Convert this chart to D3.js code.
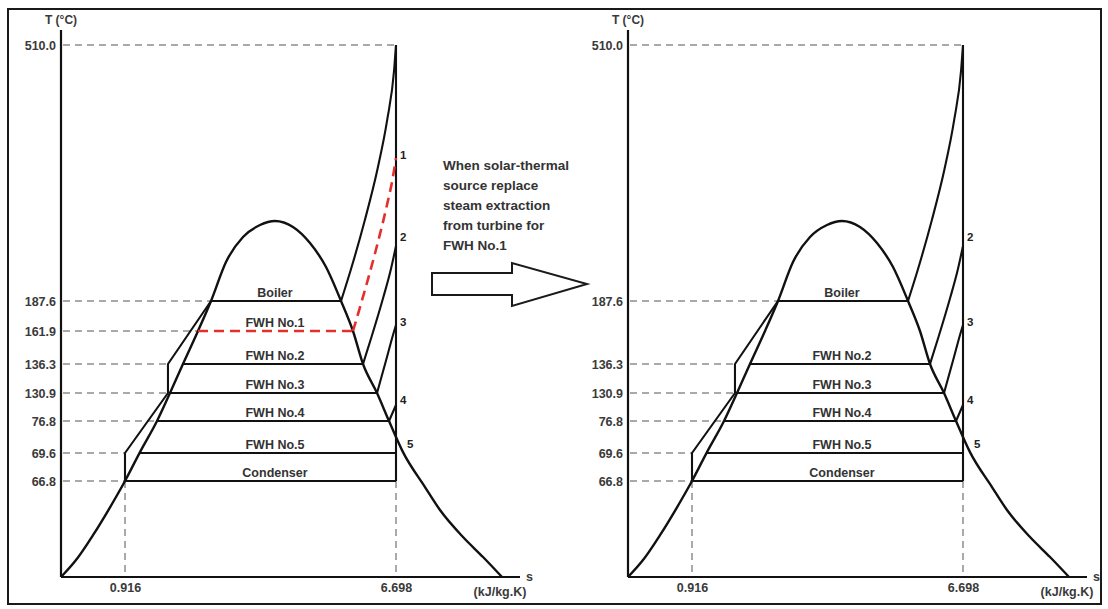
<!DOCTYPE html>
<html>
<head>
<meta charset="utf-8">
<script src="https://cdn.jsdelivr.net/npm/d3@7"></script>
<style>
  body { margin: 0; background: #fff; }
  svg { display: block; font-family: "Liberation Sans", Arial, sans-serif; }
</style>
</head>
<body>
<script>
// temperature levels on the T axis (°C)
const tLevels = [510.0, 187.6, 161.9, 136.3, 130.9, 76.8, 69.6, 66.8];
// entropy ticks (kJ/kg.K)
const sTicks = [0.916, 6.698];

// heat exchangers: name, temperature, liquid-side s, vapour-side s
const heaterNames = ["Boiler", "FWH No.1", "FWH No.2", "FWH No.3", "FWH No.4", "FWH No.5", "Condenser"];
const heaterT = [187.6, 161.9, 136.3, 130.9, 76.8, 69.6, 66.8];
const heaterS1 = [2.751, 2.474, 2.153, 1.876, 1.599, 1.236, 0.916];
const heaterS2 = [5.525, 5.780, 5.994, 6.293, 6.549, 6.698, 6.698];

// saturation dome (schematic)
const domeS = [0, 0.229, 0.458, 0.687, 0.916, 1.236, 1.599, 1.876, 2.153, 2.474, 2.751, 3.071, 3.434, 3.796, 4.116,
               4.500, 4.863, 5.205, 5.525, 5.780, 5.994, 6.293, 6.549, 6.860, 7.370, 7.718, 8.251, 8.715, 9.155];
const domeT = [0, 12.7, 29.1, 47.3, 66.8, 69.8, 76.8, 130.9, 136.3, 161.9, 187.6, 236.7, 268.2, 283.3, 288.4,
               280.8, 260.6, 230.4, 187.6, 161.9, 136.3, 130.9, 76.8, 69.8, 62.6, 46.6, 27.8, 13.9, 0];

// pumps + compressed liquid
const pumpS = [0.916, 0.916, 1.833, 1.833, 2.751];
const pumpT = [66.8, 69.6, 130.9, 136.3, 187.6];

// superheated lines up to s = 6.698
const mainS = [5.525, 5.732, 6.034, 6.299, 6.510, 6.658, 6.698];
const mainT = [187.6, 226.6, 289.6, 352.6, 415.6, 478.5, 510.0];
const ext1S = [5.780, 5.975, 6.252, 6.515, 6.621, 6.698];
const ext1T = [161.9, 188.9, 248.1, 311.0, 340.0, 367.7];
const ext2S = [5.994, 6.175, 6.429, 6.585, 6.698];
const ext2T = [136.3, 157.2, 192.6, 226.6, 256.9];
const ext3S = [6.293, 6.506, 6.634, 6.698];
const ext3T = [130.9, 141.7, 158.8, 167.0];
const ext4S = [6.549, 6.698];
const ext4T = [76.8, 107.7];

// extraction point labels
const pointNames = ["1", "2", "3", "4", "5"];
const pointS = [6.86, 6.86, 6.86, 6.86, 7.02];
const pointT = [371.5, 268.2, 169.6, 117.4, 71.6];

const noteLines = ["When solar-thermal", "source replace", "steam extraction", "from turbine for", "FWH No.1"];

const W = 1108, H = 609;
const svg = d3.select("body").append("svg")
    .attr("width", W)
    .attr("height", H);

// outer frame
svg.append("rect")
    .attr("x", 8).attr("y", 9)
    .attr("width", 1093).attr("height", 595)
    .attr("fill", "none")
    .attr("stroke", "#1a1a1a")
    .attr("stroke-width", 2);

// schematic (piecewise) temperature scale, shared by both panels
let y = d3.scaleLinear()
    .domain([0, ...tLevels.slice().reverse()])
    .range([577, 481, 453, 421, 393, 364, 331, 301, 45]);

function drawPanel(x0, withFwh1) {
    let sMax = d3.max(domeS);
    let x = d3.scaleLinear()
        .domain([0, ...sTicks, sMax])
        .range([0, 64, 335, 441].map(v => v + x0));

    let g = svg.append("g");
    let curve = (S, T) => d3.line()
        .x((d, i) => x(S[i]))
        .y((d, i) => y(T[i]))
        .curve(d3.curveMonotoneX)(S);
    let straight = (S, T) => d3.line()
        .x((d, i) => x(S[i]))
        .y((d, i) => y(T[i]))(S);

    let levels = withFwh1 ? tLevels : tLevels.filter(t => t !== 161.9);
    let tTop = d3.max(tLevels);
    let sRight = sTicks[1];
    let tCond = d3.min(heaterT);

    // where each dashed guide meets the first solid line
    function dashEnd(t) {
        if (t === tTop) return sRight;
        let c = [];
        pumpT.forEach((v, i) => { if (v === t) c.push(pumpS[i]); });
        heaterT.forEach((v, i) => { if (v === t) c.push(heaterS1[i]); });
        return d3.min(c);
    }

    // dashed guides
    let guides = g.append("g")
        .attr("stroke", "#555")
        .attr("stroke-width", 1)
        .attr("stroke-dasharray", "7,5");
    guides.selectAll("line.h")
        .data(levels)
        .join("line")
        .attr("class", "h")
        .attr("x1", x(0) + 2).attr("x2", d => x(dashEnd(d)))
        .attr("y1", d => y(d)).attr("y2", d => y(d));
    guides.selectAll("line.v")
        .data(sTicks)
        .join("line")
        .attr("class", "v")
        .attr("x1", d => x(d)).attr("x2", d => x(d))
        .attr("y1", y(tCond)).attr("y2", y(0));

    // axes
    g.append("line")
        .attr("x1", x(0)).attr("x2", x(0))
        .attr("y1", 30).attr("y2", y(0))
        .attr("stroke", "#111").attr("stroke-width", 2.2);
    g.append("line")
        .attr("x1", x(0)).attr("x2", x(sMax) + 18)
        .attr("y1", y(0)).attr("y2", y(0))
        .attr("stroke", "#111").attr("stroke-width", 2.2);

    let yAxis = g.append("g")
        .attr("transform", `translate(${x(0)},0)`)
        .call(d3.axisLeft(y).tickValues(levels).tickSize(0).tickPadding(5).tickFormat(d3.format(".1f")));
    yAxis.select(".domain").remove();
    yAxis.selectAll("text")
        .attr("font-size", "12.5px")
        .attr("font-weight", "bold")
        .attr("fill", "#3a3a3a")
        .attr("font-family", "Liberation Sans, Arial, sans-serif");

    let xAxis = g.append("g")
        .attr("transform", `translate(0,${y(0)})`)
        .call(d3.axisBottom(x).tickValues(sTicks).tickSize(0).tickPadding(6).tickFormat(d3.format(".3f")));
    xAxis.select(".domain").remove();
    xAxis.selectAll("text")
        .attr("font-size", "12.5px")
        .attr("font-weight", "bold")
        .attr("fill", "#3a3a3a")
        .attr("font-family", "Liberation Sans, Arial, sans-serif");

    g.append("text")
        .attr("x", x(0)).attr("y", 24)
        .attr("text-anchor", "middle")
        .attr("font-size", "12px").attr("font-weight", "bold").attr("fill", "#3a3a3a")
        .text("T (\u00B0C)");
    g.append("text")
        .attr("x", x(sMax) + 24).attr("y", y(0) + 4)
        .attr("font-size", "12.5px").attr("font-weight", "bold").attr("fill", "#3a3a3a")
        .text("s");
    g.append("text")
        .attr("x", x(sMax) - 2).attr("y", y(0) + 19)
        .attr("text-anchor", "middle")
        .attr("font-size", "12.5px").attr("font-weight", "bold").attr("fill", "#3a3a3a")
        .text("(kJ/kg.K)");

    // solid black process lines
    let solid = g.append("g")
        .attr("fill", "none")
        .attr("stroke", "#111")
        .attr("stroke-width", 2.1)
        .attr("stroke-linejoin", "round");

    solid.append("path").attr("d", curve(domeS, domeT)).attr("stroke-width", 2.4);
    solid.append("path").attr("d", straight(pumpS, pumpT));
    solid.append("line")
        .attr("x1", x(sRight)).attr("x2", x(sRight))
        .attr("y1", y(tTop)).attr("y2", y(tCond));

    let heaters = heaterNames.map((n, i) => ({ name: n, t: heaterT[i], s1: heaterS1[i], s2: heaterS2[i] }))
        .filter(d => withFwh1 || d.name !== "FWH No.1");

    solid.selectAll("line.heater")
        .data(heaters.filter(d => d.name !== "FWH No.1"))
        .join("line")
        .attr("class", "heater")
        .attr("x1", d => x(d.s1)).attr("x2", d => x(d.s2))
        .attr("y1", d => y(d.t)).attr("y2", d => y(d.t));

    let ext = [[mainS, mainT], [ext2S, ext2T], [ext3S, ext3T], [ext4S, ext4T]];
    solid.selectAll("path.ext")
        .data(ext)
        .join("path")
        .attr("class", "ext")
        .attr("d", d => curve(d[0], d[1]));

    if (withFwh1) {
        let f1 = heaters.find(d => d.name === "FWH No.1");
        let red = g.append("g")
            .attr("fill", "none")
            .attr("stroke", "#e2302c")
            .attr("stroke-width", 2.6)
            .attr("stroke-dasharray", "10,6");
        red.append("line")
            .attr("x1", x(f1.s1)).attr("x2", x(f1.s2))
            .attr("y1", y(f1.t)).attr("y2", y(f1.t));
        red.append("path").attr("d", curve(ext1S, ext1T));
    }

    // heater labels centred under the dome peak
    let sPeak = domeS[d3.maxIndex(domeT)];
    g.selectAll("text.heater")
        .data(heaters)
        .join("text")
        .attr("class", "heater")
        .attr("x", x(sPeak))
        .attr("y", d => y(d.t) - 4)
        .attr("text-anchor", "middle")
        .attr("font-size", "12.5px")
        .attr("font-weight", "bold")
        .attr("fill", "#333")
        .text(d => d.name);

    // extraction point numbers
    let pts = pointNames.map((n, i) => ({ n: n, s: pointS[i], t: pointT[i] }))
        .filter(d => withFwh1 || d.n !== "1");
    g.selectAll("text.pt")
        .data(pts)
        .join("text")
        .attr("class", "pt")
        .attr("x", d => x(d.s) - 3)
        .attr("y", d => y(d.t) + 4)
        .attr("font-size", "11.5px")
        .attr("font-weight", "bold")
        .attr("fill", "#222")
        .text(d => d.n);
}

drawPanel(61, true);
drawPanel(628, false);

// note and hollow arrow between the panels
svg.append("g")
    .selectAll("text")
    .data(noteLines)
    .join("text")
    .attr("x", 443)
    .attr("y", (d, i) => 170 + i * 20)
    .attr("font-size", "13.5px")
    .attr("font-weight", "bold")
    .attr("fill", "#333")
    .text(d => d);

svg.append("polygon")
    .attr("points", [[432, 273], [512, 273], [512, 263], [587, 284], [512, 306], [512, 295], [432, 295]].join(" "))
    .attr("fill", "#fff")
    .attr("stroke", "#1a1a1a")
    .attr("stroke-width", 2)
    .attr("stroke-linejoin", "miter");
</script>
</body>
</html>
